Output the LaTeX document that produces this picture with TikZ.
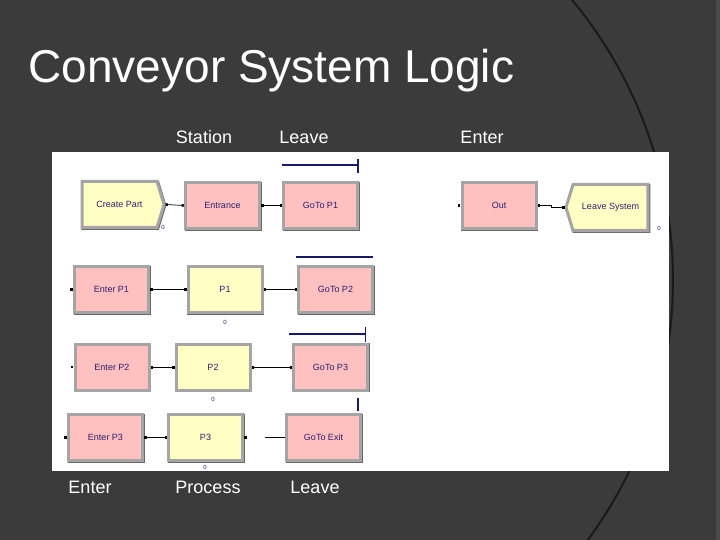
\documentclass[tikz,border=0pt]{standalone}
\usepackage{fontspec}
\setmainfont{Liberation Sans}
\usetikzlibrary{calc,arrows.meta,shapes.symbols}

\definecolor{slidebg}{RGB}{59,59,59}
\definecolor{arcblack}{RGB}{26,26,26}
\definecolor{bandgray}{RGB}{74,74,74}
\definecolor{modpink}{RGB}{255,192,192}
\definecolor{modyellow}{RGB}{255,255,196}
\definecolor{framegray}{RGB}{165,165,165}
\definecolor{framedark}{RGB}{105,105,105}
\definecolor{modtext}{RGB}{45,30,110}
\definecolor{convblue}{RGB}{25,25,110}

\tikzset{
  modblock/.style={draw=framegray, line width=3pt, minimum width=74pt, minimum height=46pt, inner sep=0pt,
    font=\fontsize{9}{10}\selectfont, text=modtext,
    preaction={draw=framedark, line width=3pt, transform canvas={shift={(0.8pt,-0.8pt)}}}},
  pinkmod/.style={modblock, fill=modpink},
  yellowmod/.style={modblock, fill=modyellow},
  hdr/.style={anchor=base, text=white, font=\fontsize{18}{20}\selectfont},
  cnt/.style={inner sep=0pt, text=modtext, font=\fontsize{6}{6}\selectfont},
  entrydot/.style={fill=black, minimum size=2.6pt, inner sep=0pt},
  conn/.style={line width=0.7pt, {Square[length=2.4pt,width=2.4pt]}-{Square[length=2.4pt,width=2.4pt]}},
  convline/.style={draw=convblue, line width=1.3pt}
}

\begin{document}
\begin{tikzpicture}[x=1pt,y=-1pt]
\useasboundingbox (0,0) rectangle (720,540);
\fill[slidebg] (0,0) rectangle (720,540);
\fill[bandgray] (716,0) rectangle (720,540);
\begin{scope}
  \clip (0,0) rectangle (716,540);
  \draw[arcblack, line width=2pt] (234,280) circle [radius=439pt];
\end{scope}
\fill[white] (52,152) rectangle (669,471);

\node[anchor=base west, text=white, font=\fontsize{46}{50}\selectfont] (title) at (25,83) {Conveyor System Logic};

% column headings
\node[hdr] (hstation) at (204,144) {Station};
\node[hdr] (hleave)   at (304,144) {Leave};
\node[hdr] (henter)   at (482,144) {Enter};
\node[hdr] (fenter)   at (90,493)  {Enter};
\node[hdr] (fprocess) at (208,493) {Process};
\node[hdr] (fleave)   at (315,493) {Leave};

% modules
\node[yellowmod, signal, signal to=east, signal pointer angle=146, minimum width=82pt] (create) at (119.5,204.5) {Create Part};
\node[pinkmod]   (entrance) at (222.5,205.5) {Entrance};
\node[pinkmod]   (gop1)     at (320.5,205.5) {GoTo P1};
\node[pinkmod]   (out)      at (499,205.5)   {Out};
\node[yellowmod, signal, signal to=west, signal pointer angle=146, minimum width=82pt] (leave) at (610.5,207.5) {Leave System};

\node[pinkmod]   (enterp1)  at (111.5,289.5) {Enter P1};
\node[yellowmod] (p1)       at (225,289.5)   {P1};
\node[pinkmod]   (gop2)     at (335.5,289.5) {GoTo P2};

\node[pinkmod]   (enterp2)  at (112,367)     {Enter P2};
\node[yellowmod] (p2)       at (213,367)     {P2};
\node[pinkmod]   (gop3)     at (330.5,367)   {GoTo P3};

\node[pinkmod]   (enterp3)  at (105.5,437.5) {Enter P3};
\node[yellowmod] (p3)       at (205.5,437.5) {P3};
\node[pinkmod]   (goexit)   at (323.5,437.5) {GoTo Exit};

% counters
\node[cnt] (ccreate) at (163,227) {0};
\node[cnt] (cp1)     at (225,322) {0};
\node[cnt] (cp2)     at (213,399) {0};
\node[cnt] (cp3)     at (205,467) {0};
\node[cnt] (cleave)  at (659,228) {0};

% entry points
\node[entrydot, anchor=east] (dp1)  at (enterp1.west) {};
\node[entrydot, anchor=east] (dp2)  at (enterp2.west) {};
\node[entrydot, anchor=east] (dp3)  at (enterp3.west) {};
\node[entrydot, anchor=east] (dout) at (out.west) {};
\node[entrydot, anchor=west] (p3x)  at (p3.east) {};

% connections
\draw[conn] (create.east) -- (entrance.west);
\draw[conn] (entrance) -- (gop1);
\draw[conn] (enterp1) -- (p1);
\draw[conn] (p1) -- (gop2);
\draw[conn] (enterp2) -- (p2);
\draw[conn] (p2) -- (gop3);
\draw[conn] (enterp3) -- (p3);
\coordinate (exitgap) at (265,437.5);
\draw[conn, {-}] (exitgap) -- (goexit);
\draw[conn] (out.east) -- ++(14,0) |- (leave.west);

% conveyor marks
\begin{scope}[transform canvas={yshift=16pt}]
\draw[convline] (gop1.north west) -- (gop1.north east);
\end{scope}
\draw[convline] ($(gop1.north east)+(-1,-22)$) -- ($(gop1.north east)+(-1,-8)$);

\begin{scope}[transform canvas={shift={(-1.5pt,8pt)}}]
\draw[convline] (gop2.north west) -- (gop2.north east);
\end{scope}

\begin{scope}[transform canvas={shift={(-3.5pt,8.5pt)}}]
\draw[convline] (gop3.north west) -- (gop3.north east);
\draw[convline] ($(gop3.north east)+(0,-7)$) -- ($(gop3.north east)+(0,8)$);
\end{scope}

\draw[convline] ($(goexit.north east)+(-4,-15)$) -- ($(goexit.north east)+(-4,-2)$);
\end{tikzpicture}
\end{document}
